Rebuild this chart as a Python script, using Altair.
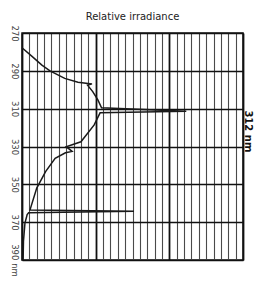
import altair as alt
import pandas as pd

# Spectrum (wavelength in nm, relative irradiance in grid units)
wavelength = [277.8, 282.5, 287.0, 290.0, 294.0, 296.0, 296.9, 297.6, 301.0, 305.4,
              309.5, 311.3, 312.2, 318.6, 327.5, 330.1, 332.6, 333.3, 336.3, 343.3,
              352.0, 362.7, 363.6, 364.2, 365.0, 366.0, 370.5, 380.0, 390.0]
irradiance = [0.0, 1.4, 2.7, 3.8, 5.8, 7.6, 9.5, 8.9, 9.6, 10.3,
              10.8, 22.3, 10.6, 9.8, 8.0, 6.0, 6.8, 5.9, 4.5, 3.2,
              2.0, 1.15, 1.1, 15.2, 0.9, 0.7, 0.4, 0.2, 0.15]

wl_ticks = [270, 290, 310, 330, 350, 370, 390]
x_ticks = list(range(0, 31))

peak_label = ["312 nm"]
peak_label_wl = [322]
peak_label_x = [30.68]

df = pd.DataFrame({"wl": wavelength, "irr": irradiance})
ann = pd.DataFrame({"text": peak_label, "wl": peak_label_wl, "irr": peak_label_x})

xscale = alt.Scale(domain=[0, 30], nice=False, zero=False)
yscale = alt.Scale(domain=[270, 390], nice=False, zero=False, reverse=True)

xaxis = alt.Axis(values=x_ticks, tickCount=31, labels=False, ticks=False, domain=False, title=None,
                 grid=True,
                 gridColor={"condition": {"test": "datum.value % 10 == 0", "value": "#111111"}, "value": "#4a4a4a"},
                 gridWidth={"condition": {"test": "datum.value % 10 == 0", "value": 1.8}, "value": 1.1})
yaxis = alt.Axis(values=wl_ticks, tickCount=7, ticks=False, domain=False, title=None, grid=True,
                 gridColor="#111111", gridWidth=1.3, labelOverlap=False,
                 labelAngle=90, labelBaseline="middle", labelPadding=8, labelAlign="center",
                 labelExpr="datum.value == 390 ? '390 nm' : datum.label",
                 labelFont="DejaVu Sans", labelFontSize=8.5, labelColor="#444444")

line = alt.Chart(df).mark_line(color="#1a1a1a", strokeWidth=1.5).encode(
    x=alt.X("irr:Q", scale=xscale, axis=xaxis),
    y=alt.Y("wl:Q", scale=yscale, axis=yaxis),
    order=alt.Order("wl:Q"),
)

txt = alt.Chart(ann).mark_text(angle=90, fontSize=10, fontWeight="bold", font="DejaVu Sans",
                               color="#111111", align="center", baseline="middle").encode(
    x=alt.X("irr:Q", scale=xscale, axis=xaxis),
    y=alt.Y("wl:Q", scale=yscale, axis=yaxis),
    text="text:N",
)

chart = alt.layer(line, txt).properties(
    width=221, height=227,
    autosize=alt.AutoSizeParams(type="none"),
    padding={"left": 14, "top": 25, "right": 11, "bottom": 16},
    title=alt.TitleParams("Relative irradiance", fontSize=10, fontWeight="normal",
                          font="DejaVu Sans", color="#222222", offset=3),
).configure_view(stroke="#111111", strokeWidth=1.5)

chart.save("out.html", embed_options={"renderer": "svg", "actions": False})
